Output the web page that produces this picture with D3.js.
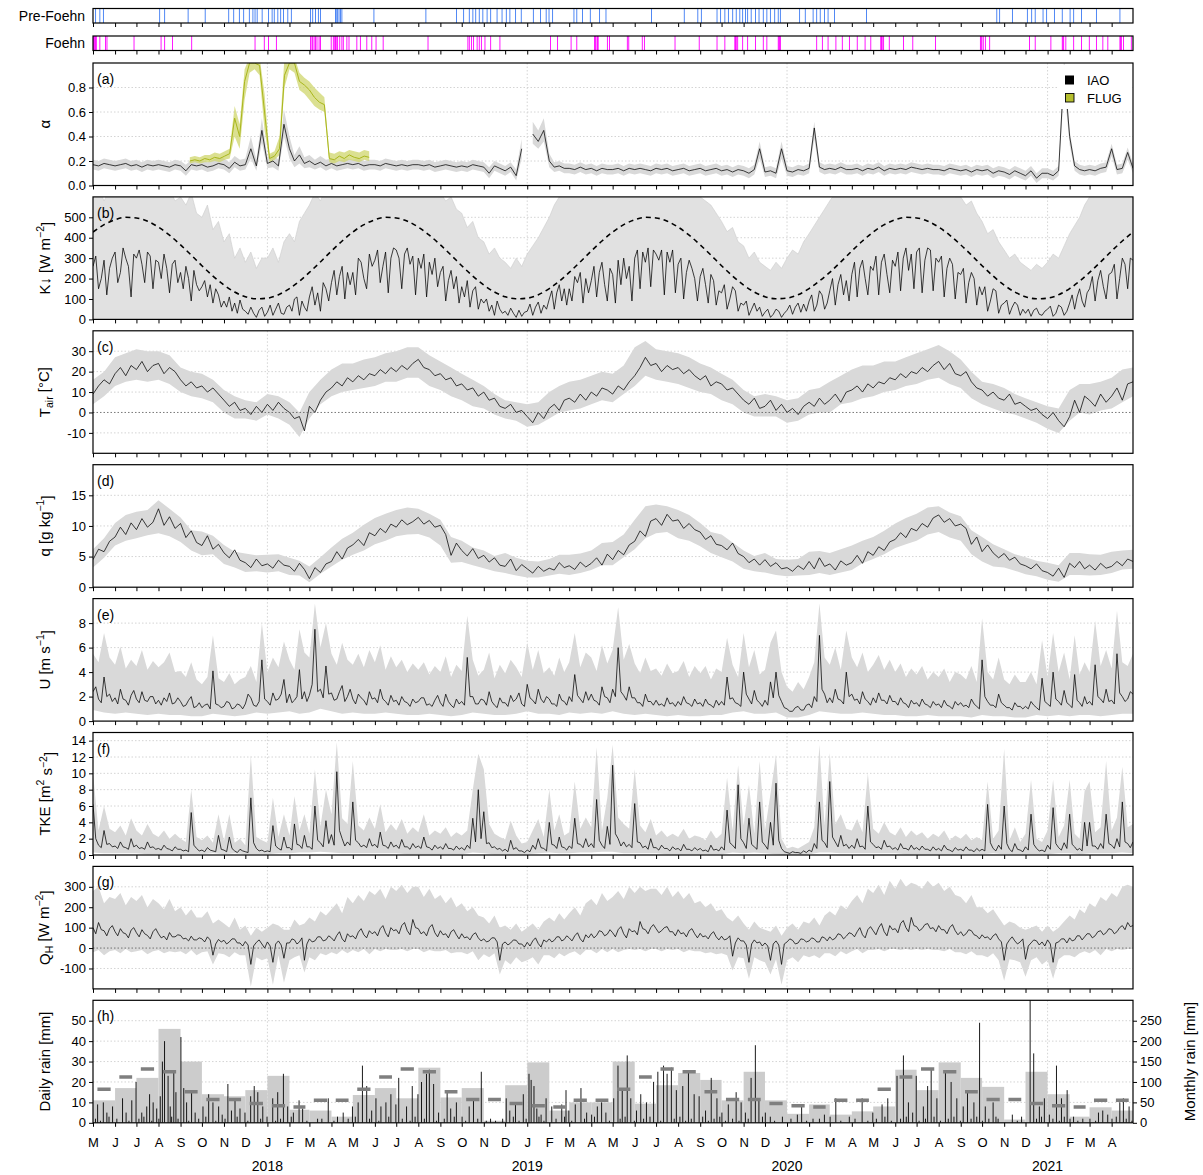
<!DOCTYPE html>
<html>
<head>
<meta charset="utf-8">
<script src="https://cdn.jsdelivr.net/npm/d3@7"></script>
<style>
  body { margin: 0; background: #fff; }
  text { font-family: "Liberation Sans", Arial, Helvetica, sans-serif; }
</style>
</head>
<body>
<svg id="chart" width="1203" height="1175"></svg>
<script>
// ---------------------------------------------------------------------------
// Record: 1 May 2017 – 30 Apr 2021
// Series below are sampled 8, 4 or 2 times per calendar month, starting May 2017,
// plus one closing value at 1 May 2021.
// ---------------------------------------------------------------------------
const START = new Date(2017, 4, 1);
const END = new Date(2021, 4, 1);

// Pre-foehn and foehn days (days since 1 May 2017)
const preFoehnDays = [3,9,14,93,100,133,157,190,197,205,211,219,224,227,230,237,246,251,254,259,263,267,273,278,305,308,312,316,319,340,341,343,345,347,349,394,467,510,520,528,533,537,542,547,553,558,567,574,580,585,593,601,618,628,636,640,645,675,679,687,698,711,720,784,830,849,854,876,881,887,892,898,903,908,912,916,919,924,930,935,941,946,951,957,962,965,992,1000,1011,1016,1021,1027,1032,1041,1086,1269,1273,1291,1312,1318,1323,1334,1339,1350,1361,1372,1377,1388,1409,1442];
const foehnDays = [0,1,2,3,4,9,17,19,57,95,100,111,138,227,240,246,257,305,307,308,310,312,314,317,319,334,337,339,340,341,343,346,349,351,356,359,370,375,384,391,397,407,470,526,528,531,534,539,542,545,550,558,571,642,652,671,679,704,705,706,708,709,722,725,750,752,771,774,817,851,876,887,901,902,903,905,912,919,930,941,946,962,963,964,965,1016,1024,1032,1043,1052,1062,1073,1084,1092,1106,1107,1108,1110,1118,1138,1151,1183,1246,1247,1248,1250,1253,1259,1315,1323,1345,1361,1362,1363,1366,1377,1388,1399,1409,1418,1425,1442,1443,1444,1447,1458];

// (a) albedo, IAO (4 per month): mean, upper and lower range
const albedoIAO = [
  .17,.16,.18,.17, .16,.17,.18,.16, .17,.15,.17,.16, .17,.16,.15,.17, .16,.12,.17,.16, .17,.15,.16,.18, .17,.14,.19,.16, .17,.30,.16,.45,
  .18,.20,.16,.50, .30,.20,.25,.18, .20,.17,.19,.16, .18,.16,.17,.18, .17,.18,.16,.17, .17,.16,.18,.17, .16,.17,.16,.17, .17,.16,.17,.15, .16,.17,.16,.15, .16,.15,.17,.16, .15,.10,.16,.14, .12,.15,.08,.30,
  null,.42,.36,.45, .20,.15,.16,.14, .14,.13,.15,.13, .14,.12,.14,.13, .13,.14,.12,.14, .13,.14,.13,.12, .14,.13,.14,.12, .13,.14,.12,.13, .14,.12,.13,.14, .12,.13,.11,.13, .12,.10,.13,.30, .11,.12,.10,.30,
  .12,.11,.13,.12, .14,.47,.15,.13, .14,.13,.15,.13, .13,.14,.12,.14, .13,.15,.12,.14, .13,.14,.13,.15, .14,.13,.14,.13, .13,.12,.14,.13, .12,.13,.11,.13, .12,.13,.10,.12, .11,.09,.12,.10, .08,.12,.06,.10,
  .10,.08,.12,.95, .40,.16,.13,.12, .13,.12,.14,.15, .30,.13,.14,.27, .14
];
const albedoIAOHi = [
  .21,.20,.22,.21, .20,.21,.22,.20, .21,.19,.21,.20, .21,.20,.19,.21, .20,.17,.21,.20, .21,.19,.21,.23, .22,.19,.24,.21, .22,.40,.21,.55,
  .23,.26,.21,.62, .40,.25,.32,.23, .25,.21,.24,.21, .22,.20,.21,.22, .21,.22,.20,.21, .21,.20,.22,.21, .20,.21,.20,.21, .21,.20,.21,.19, .20,.21,.20,.19, .20,.19,.21,.20, .19,.15,.20,.18, .16,.19,.13,.38,
  null,.52,.45,.55, .26,.19,.20,.18, .18,.17,.19,.17, .18,.16,.18,.17, .17,.18,.16,.18, .17,.18,.17,.16, .18,.17,.18,.16, .17,.18,.16,.17, .18,.16,.17,.18, .16,.17,.15,.17, .16,.14,.17,.36, .15,.16,.14,.36,
  .16,.15,.17,.16, .18,.52,.19,.17, .18,.17,.19,.17, .17,.18,.16,.18, .17,.19,.16,.18, .17,.18,.17,.19, .18,.17,.18,.17, .17,.16,.18,.17, .16,.17,.15,.17, .16,.17,.14,.16, .15,.13,.16,.14, .12,.16,.10,.14,
  .14,.12,.16,1.05, .45,.20,.17,.16, .17,.16,.18,.19, .34,.17,.18,.31, .18
];
const albedoIAOLo = [
  .13,.12,.14,.13, .12,.13,.14,.12, .13,.11,.13,.12, .13,.12,.11,.13, .12,.08,.13,.12, .13,.11,.12,.14, .13,.10,.15,.12, .13,.22,.12,.35,
  .14,.15,.12,.40, .22,.15,.18,.14, .15,.13,.15,.12, .14,.12,.13,.14, .13,.14,.12,.13, .13,.12,.14,.13, .12,.13,.12,.13, .13,.12,.13,.11, .12,.13,.12,.11, .12,.11,.13,.12, .11,.06,.12,.10, .08,.11,.04,.22,
  null,.34,.30,.36, .15,.11,.12,.10, .10,.09,.11,.09, .10,.08,.10,.09, .09,.10,.08,.10, .09,.10,.09,.08, .10,.09,.10,.08, .09,.10,.08,.09, .10,.08,.09,.10, .08,.09,.07,.09, .08,.06,.09,.22, .07,.08,.06,.22,
  .08,.07,.09,.08, .10,.38,.11,.09, .10,.09,.11,.09, .09,.10,.08,.10, .09,.11,.08,.10, .09,.10,.09,.11, .10,.09,.10,.09, .09,.08,.10,.09, .08,.09,.07,.09, .08,.09,.06,.08, .07,.05,.08,.06, .04,.08,.02,.06,
  .06,.04,.08,.80, .33,.12,.09,.08, .09,.08,.10,.11, .24,.09,.10,.21, .10
];
// (a) albedo, FLUG weekly from 14 Sep 2017
const FLUG_START = new Date(2017, 8, 14);
const albedoFLUG   = [.20,.21,.20,.22,.21,.23,.22,.24,.26,.55,.40,.85,1.0,1.0,.98,.60,.22,.24,.30,.90,1.0,1.0,.85,.82,.78,.72,.68,.66,.22,.21,.24,.22,.25,.23,.22,.24,.23];
const albedoFLUGLo = [.18,.19,.18,.19,.19,.20,.19,.21,.22,.40,.30,.70,.92,.95,.90,.45,.19,.21,.25,.80,.95,.92,.78,.75,.70,.65,.62,.60,.19,.18,.20,.19,.21,.20,.19,.21,.20];
const albedoFLUGHi = [.23,.24,.23,.25,.25,.27,.26,.28,.30,.65,.50,.95,1.05,1.05,1.05,.75,.26,.28,.40,1.05,1.05,1.05,.92,.88,.85,.80,.76,.72,.27,.26,.28,.27,.29,.28,.27,.29,.28];

// (b) incoming shortwave: daily mean (8 per month), daily maximum (4 per month)
const kdownMean = [
  260,310,150,200,290,120,250,300, 330,180,230,350,300,260,110,320, 300,340,270,180,330,310,150,290, 280,200,320,250,130,270,290,180,
  230,150,260,200,90,240,170,140, 160,190,110,170,80,150,120,60, 90,60,110,40,80,30,95,50, 40,25,60,30,10,45,60,15,
  35,70,20,50,80,30,25,60, 70,40,100,110,20,90,60,40, 110,160,70,130,40,180,150,90, 180,240,120,210,260,100,230,170,
  230,120,300,280,200,150,320,260, 290,340,180,260,330,130,300,350, 340,300,150,320,350,270,310,120, 300,250,320,110,280,220,300,160,
  230,260,90,190,240,150,210,80, 160,110,190,60,140,160,50,100, 80,100,40,70,20,90,50,30, 40,20,55,30,10,45,15,35,
  40,75,20,60,85,30,70,50, 100,140,50,130,170,90,150,70, 150,90,210,180,230,80,200,130, 190,260,110,230,280,170,90,250,
  220,80,290,170,300,200,260,90, 300,340,150,330,280,350,160,340, 320,290,340,120,330,280,340,130, 270,300,100,230,290,250,200,90,
  210,250,170,80,220,190,70,140, 130,170,50,100,160,140,40,80, 70,90,20,50,80,40,60,15, 35,50,10,25,50,40,10,30,
  45,70,25,60,80,35,75,40, 90,120,40,70,140,120,50,80, 140,200,70,170,220,120,190,90, 220,280,110,250,290,200,120,260,
  240,310,120,280,320,220,130,290, 260,330,140,300,350,240,320,150, 330,350,130,290,350,340,140,300, 280,310,110,250,300,270,100,230,
  220,250,80,180,230,200,70,160, 120,160,40,90,150,140,30,70, 80,95,25,60,85,70,20,50, 30,50,15,45,55,25,20,40,
  50,65,15,30,70,60,20,40, 80,120,50,110,150,90,60,130, 150,210,90,190,240,160,100,220, 230,270,100,200,300,270,150,300,
  290
];
const kdownMax = [
  600,650,580,640, 680,620,700,650, 690,640,700,660, 650,600,640,580, 600,560,620,520, 500,560,440,480, 380,420,300,350, 280,330,250,300,
  300,350,280,380, 420,380,480,520, 560,620,580,650, 640,680,620,700, 650,700,640,690, 700,660,720,680, 690,710,650,700, 680,640,660,600, 620,580,600,540, 520,450,480,400, 380,320,350,300, 280,250,300,260,
  320,360,400,450, 500,560,600,620, 640,600,680,650, 700,660,690,720, 650,700,680,720, 720,690,710,700, 700,680,710,660, 680,640,660,620, 600,580,560,520, 480,430,450,380, 360,300,330,280, 260,240,280,250,
  300,340,320,380, 420,460,500,540, 580,620,600,660, 680,650,700,690, 700,670,720,690, 710,680,700,720, 700,690,710,680, 670,640,650,600, 600,560,580,520, 480,420,440,380, 340,300,320,280, 260,240,270,250,
  280,320,300,360, 420,460,500,560, 600,640,620,680, 700,660,720,700, 700
];
// (b) clear-sky reference, 1st and 16th of each month, May–Apr
const kdownClearSky = [428,463,488,500,497,482,452,414,365,315,263,214,168,134,111,101,104,120,151,190,230,280,335,384];

// (c) air temperature: mean (4 per month), daily min / max (2 per month)
const tairMean = [
  9,13,16,14, 19,22,18,23, 21,25,20,23, 24,19,22,20, 16,13,15,12, 13,10,12,9, 6,3,5,1, 2,-1,3,0,
  4,1,5,2, 0,-3,-2,-9, 3,0,6,10, 12,15,13,17, 15,18,16,19, 18,21,19,22, 20,23,21,24, 26,22,21,18, 19,16,17,13, 14,11,12,8, 10,6,7,3, 2,4,0,1,
  -2,-5,0,-3, 2,4,1,6, 7,5,9,6, 10,8,12,11, 9,13,11,15, 18,22,27,23, 24,20,23,21, 22,19,21,18, 16,18,13,15, 14,11,12,9, 6,4,7,2, 3,6,1,4,
  0,2,-1,3, 5,3,7,4, 6,9,5,10, 11,13,10,14, 12,15,14,17, 16,19,17,20, 19,22,20,23, 25,21,24,19, 18,20,15,12, 11,8,10,7, 6,9,4,5, 3,1,2,-1,
  -3,0,-4,-7, -2,6,0,8, 6,3,9,5, 8,12,6,14, 15
];
const tairMin = [
  4,8, 13,15, 16,15, 16,14, 10,8, 7,5, 0,-3, -3,-4,
  -1,-3, -6,-12, -3,4, 8,10, 11,12, 13,15, 15,17, 17,13, 11,8, 6,3, 2,-1, -3,-4,
  -7,-6, -3,0, 1,2, 4,6, 5,9, 13,18, 16,15, 14,12, 10,9, 6,4, 0,-2, -2,-2,
  -5,-4, -1,0, 0,4, 5,7, 8,10, 11,13, 14,16, 17,14, 12,7, 4,2, 0,-1, -3,-5,
  -8,-10, -4,0, -1,1, 2,5, 8
];
const tairMax = [
  16,20, 27,29, 31,30, 30,28, 22,20, 19,16, 11,8, 6,5,
  9,8, 5,0, 10,16, 21,24, 24,26, 27,29, 30,32, 32,28, 25,22, 19,16, 13,9, 6,5,
  4,5, 10,13, 15,16, 18,20, 19,23, 32,35, 31,30, 29,27, 24,22, 19,16, 11,8, 9,8,
  6,7, 11,12, 15,18, 21,23, 23,25, 25,27, 29,31, 33,30, 26,20, 15,14, 12,9, 7,5,
  3,2, 11,14, 14,15, 17,21, 22
];

// (d) specific humidity: mean (4 per month), range (2 per month)
const qMean = [
  4.5,6.2,5.8,7.5, 8.2,9.8,8.6,10.5, 9.4,11.2,9.8,10.6, 12.8,10.1,11.5,9.6, 10.4,8.1,9.2,7.3, 6.8,8.4,6.2,7.0, 5.6,4.8,6.1,4.4, 4.0,3.2,4.6,3.5,
  3.8,3.1,4.4,3.6, 3.4,2.6,3.9,2.9, 1.4,3.2,2.4,3.8, 4.2,5.8,4.6,6.4, 6.9,7.8,6.8,8.9, 8.4,9.6,8.9,10.3, 9.8,11.0,10.2,10.7, 11.4,10.3,10.9,9.8, 10.1,8.6,5.2,7.2, 6.0,5.1,6.3,4.7, 5.2,4.1,4.8,3.6, 3.4,4.6,2.7,3.7,
  3.0,2.3,3.4,2.6, 3.1,2.8,4.0,3.2, 3.5,2.9,4.1,3.3, 3.9,4.8,3.6,5.4, 4.5,6.0,5.3,6.9, 7.5,9.2,8.3,10.8, 11.2,10.1,11.9,10.8, 11.0,9.6,10.4,9.4, 9.0,7.8,8.4,7.0, 6.8,6.1,7.2,5.5, 5.0,4.0,4.6,3.6, 4.5,3.4,4.0,3.0,
  3.2,2.6,3.5,2.9, 4.2,3.0,4.8,3.4, 3.8,2.8,4.3,3.6, 4.0,5.2,3.9,5.8, 5.2,6.6,6.0,7.4, 7.8,8.9,8.1,9.6, 9.2,10.4,9.8,11.3, 11.8,10.6,11.2,10.0, 10.3,9.6,7.0,8.2, 5.8,6.9,5.6,4.8, 5.5,4.4,4.9,3.8, 3.5,3.0,3.8,2.7,
  2.4,1.8,3.1,1.6, 3.9,3.2,4.2,3.0, 3.6,2.8,3.9,3.1, 3.4,4.2,3.5,4.6, 4.2
];
const qMin = [
  3.2,4.8, 6.8,7.6, 8.0,8.5, 8.8,8.3, 7.4,6.0, 5.2,5.4, 3.8,3.2, 2.5,2.6,
  2.4,2.6, 2.0,1.9, 0.8,2.2, 3.4,4.5, 5.3,6.0, 7.0,7.6, 8.3,8.6, 8.7,8.1, 6.8,4.0, 4.1,3.6, 3.1,2.6, 2.3,1.9,
  1.6,1.6, 1.9,2.2, 2.0,2.3, 2.8,3.6, 3.6,4.9, 6.2,8.0, 8.8,9.0, 8.0,7.6, 6.7,5.6, 4.9,4.2, 3.0,2.6, 2.4,2.0,
  1.8,1.9, 2.0,2.3, 2.0,2.4, 2.8,3.9, 4.6,5.4, 6.4,7.0, 7.6,8.6, 9.0,8.1, 7.6,5.4, 4.2,3.4, 3.2,2.7, 2.1,1.8,
  1.2,0.9, 2.0,2.0, 1.9,2.0, 2.3,2.9, 3.0
];
const qMax = [
  6.2,8.0, 10.5,11.8, 12.3,12.6, 14.2,12.8, 11.4,9.3, 9.1,8.4, 6.9,5.8, 5.5,5.2,
  5.3,5.4, 4.8,4.3, 3.4,4.9, 6.5,7.9, 8.9,10.2, 11.3,12.0, 12.6,13.0, 12.8,12.0, 11.0,8.2, 7.6,6.5, 6.0,5.1, 5.6,4.8,
  4.3,4.2, 4.6,5.3, 5.3,5.5, 6.0,7.2, 7.4,8.6, 11.0,13.2, 13.5,13.2, 12.6,11.8, 10.5,9.0, 8.6,7.3, 6.0,5.1, 5.6,4.6,
  4.5,4.6, 5.8,5.9, 5.6,6.2, 6.8,7.6, 8.2,9.2, 10.4,11.3, 12.0,13.0, 13.2,12.2, 11.6,9.3, 8.2,7.0, 6.2,5.4, 4.9,4.3,
  4.0,3.6, 5.6,5.6, 5.4,5.3, 5.8,6.0, 6.1
];

// (e) wind speed: mean (8 per month), maximum (4 per month), minimum (2 per month)
const uMean = [
  2.4,2.8,1.8,1.5,3.6,2.0,2.2,1.6, 1.9,1.4,2.6,1.8,1.7,1.3,2.1,2.5, 1.8,1.5,2.4,1.7,1.6,2.0,2.0,1.4, 1.7,1.3,1.9,1.6,2.3,1.4,1.5,1.9,
  1.6,1.2,1.3,1.7,2.0,1.1,1.2,1.5, 1.1,1.3,1.4,1.0,4.1,1.4,1.3,1.1, 1.2,1.6,1.5,1.0,1.1,1.4,1.3,1.0, 1.4,2.2,1.9,1.3,1.2,1.6,5.0,1.8,
  1.6,1.3,2.3,1.7,1.8,2.2,3.4,1.5, 2.2,1.5,1.7,2.0,4.2,1.8,2.4,1.6, 2.1,3.0,7.5,2.4,2.6,1.9,4.5,2.2, 2.3,1.7,1.8,2.4,2.9,1.6,2.0,2.6,
  1.8,1.4,2.2,1.9,1.7,1.3,2.4,1.8, 1.9,1.5,2.6,1.8,1.6,1.3,2.1,1.6, 1.7,1.3,2.0,1.6,1.5,1.2,1.8,1.5, 1.6,1.9,1.9,1.3,1.4,1.2,1.7,2.1,
  1.5,1.2,2.2,1.6,1.3,1.1,1.8,1.4, 1.6,1.3,5.2,2.0,2.0,1.4,1.4,1.8, 1.7,1.3,2.4,1.6,1.3,1.1,1.9,1.5, 1.5,1.2,2.1,1.6,1.8,2.3,1.4,1.2,
  3.0,1.9,1.7,1.4,2.6,1.8,1.5,2.0, 1.8,1.4,1.4,1.2,2.2,1.7,1.6,1.3, 2.0,1.6,3.8,2.1,1.8,1.5,2.4,1.7, 2.2,1.7,1.6,1.3,2.8,2.0,1.9,1.5,
  2.6,2.0,6.0,2.4,2.1,1.7,2.8,1.9, 1.9,1.5,1.5,1.2,2.2,1.6,1.6,1.3, 1.7,1.3,1.4,1.2,1.9,1.4,1.5,1.2, 1.6,1.3,2.0,1.5,1.4,1.2,1.8,1.4,
  1.5,1.2,1.8,1.4,1.3,1.1,1.7,1.3, 1.6,1.3,3.6,1.8,1.9,1.5,1.4,1.2, 4.0,2.2,1.8,1.4,2.5,1.7,1.5,1.2, 1.7,1.3,3.2,1.9,4.0,2.1,1.6,1.1,
  1.0,0.8,0.8,1.1,1.2,0.9,0.9,1.3, 1.4,1.1,2.0,1.6,7.0,2.6,2.2,1.5, 1.9,1.5,2.6,1.8,1.7,1.4,4.0,2.0, 2.2,1.7,1.8,1.4,2.4,1.8,1.6,1.3,
  1.9,1.5,2.3,1.7,1.7,1.4,2.1,1.6, 1.6,1.3,1.9,1.5,1.4,1.1,1.7,1.4, 1.5,1.2,1.8,1.4,1.3,1.1,1.6,1.3, 1.4,1.1,1.7,1.3,1.2,1.0,1.6,1.3,
  1.5,1.2,1.3,1.1,1.8,1.4,1.2,1.0, 5.0,2.0,1.6,1.3,1.3,1.1,2.2,1.5, 1.3,1.1,1.1,0.9,1.5,1.2,1.2,1.0, 1.2,1.0,1.6,1.3,1.1,0.9,3.5,1.6,
  1.4,1.2,4.0,1.8,1.6,1.3,2.5,1.5, 1.3,1.1,3.8,1.7,1.5,1.2,2.0,1.4, 1.6,1.3,4.6,2.0,1.8,1.5,2.6,1.6, 1.7,1.4,5.5,2.3,2.0,1.6,1.8,2.4,
  2.2
];
const uMax = [
  5.5,4.8,7.2,5.2, 4.6,6.1,4.3,5.0, 4.5,5.8,4.2,4.9, 4.4,4.8,5.6,4.0, 4.1,3.6,4.8,3.4, 3.0,3.6,7.0,3.5, 3.2,3.9,3.0,3.4, 3.6,4.5,3.2,8.0,
  4.0,5.2,4.4,6.5, 5.0,4.2,7.5,5.6, 5.2,9.6,6.0,8.0, 5.5,4.6,6.4,5.0, 4.6,5.5,4.4,5.8, 4.8,6.2,4.2,5.3, 4.4,5.0,4.0,4.7, 4.2,4.8,3.8,4.5, 4.0,5.3,3.6,4.6, 4.1,8.6,5.0,3.7, 4.2,5.6,3.5,4.6, 3.9,5.0,4.4,3.6,
  6.4,4.2,5.8,3.9, 4.4,3.7,5.2,4.0, 4.8,7.2,4.4,5.6, 5.2,4.1,6.2,4.7, 5.8,9.3,5.0,6.3, 4.7,3.9,5.2,4.1, 4.3,3.7,4.7,3.9, 4.1,4.9,3.6,4.5, 3.9,4.5,3.4,4.3, 4.0,6.8,4.6,3.6, 7.2,4.4,5.8,3.8, 4.2,6.4,7.4,4.0,
  2.8,2.4,3.2,2.6, 3.6,4.8,9.6,5.2, 4.6,6.0,4.2,7.4, 5.2,4.4,5.6,4.0, 4.6,5.4,4.2,5.0, 4.0,4.7,3.6,4.3, 3.8,4.5,3.4,4.0, 3.6,4.3,3.2,4.0, 3.8,3.4,4.5,3.2, 8.4,4.0,3.4,5.2, 3.4,3.0,3.8,3.2, 3.2,4.0,3.0,6.6,
  3.6,7.2,4.0,5.6, 3.4,7.0,3.8,4.8, 4.0,8.2,4.5,5.8, 4.3,9.0,4.8,4.5, 5.5
];
const uMin = [
  .9,.7, .6,.7, .6,.5, .6,.5, .5,.4, .4,.6, .5,.4, .5,.7,
  .6,.7, .8,.6, .7,1.0, .8,.6, .7,.6, .6,.7, .6,.5, .5,.6, .5,.4, .5,.7, .6,.5, .5,.6,
  .8,.6, .6,.5, .7,.6, .7,.6, .8,.6, .5,.6, .5,.4, .5,.4, .4,.5, .5,.7, .8,.6, .6,.7,
  .3,.3, .5,.8, .7,.6, .6,.7, .6,.5, .5,.4, .4,.5, .4,.4, .4,.3, .5,.4, .4,.3, .3,.5,
  .4,.5, .4,.5, .5,.4, .5,.6, .6
];

// (f) turbulent kinetic energy: mean (8 per month), maximum (4 per month), minimum (2 per month)
const tkeMean = [
  6.2,2.0,1.2,0.9,3.0,1.3,1.4,1.0, 1.1,0.8,1.6,1.0,0.9,0.7,2.0,1.0, 1.2,0.8,0.9,0.7,1.6,0.9,1.0,0.7, 0.8,0.6,1.2,0.8,0.7,0.5,1.0,0.7,
  0.7,0.5,0.6,0.4,5.2,1.2,0.8,0.5, 0.6,0.4,0.9,0.6,0.5,0.4,2.4,0.7, 0.6,0.4,2.2,0.8,0.5,0.3,0.7,0.5, 0.4,0.3,7.0,1.5,0.8,0.5,0.6,0.4,
  0.5,0.4,3.6,1.1,0.8,0.6,2.2,0.9, 0.9,0.6,3.8,1.3,1.2,0.8,2.4,1.0, 1.0,0.7,6.0,1.8,1.5,1.0,4.2,1.4, 2.5,1.2,10.2,3.0,2.0,1.1,1.6,1.2,
  6.5,1.8,1.5,1.0,1.2,0.9,2.0,1.1, 1.3,0.9,2.8,1.2,1.1,0.8,1.6,1.0, 1.2,0.8,1.9,1.0,1.0,0.7,1.4,0.9, 1.1,0.8,2.2,1.0,0.9,0.6,1.2,0.8,
  1.0,0.7,1.4,0.8,0.8,0.6,1.1,0.7, 0.9,0.6,1.2,0.8,4.5,1.6,8.0,2.0, 5.3,1.4,1.5,0.9,1.0,0.7,0.8,0.5, 0.7,0.4,1.8,0.7,0.9,0.5,0.5,0.3,
  0.6,0.4,1.2,0.7,2.0,0.9,0.8,0.5, 4.0,1.3,1.2,0.8,2.2,1.0,0.9,0.6, 1.1,0.8,4.5,1.4,1.3,0.9,2.0,1.0, 1.4,0.9,6.8,1.8,1.2,0.8,3.5,1.3,
  11.0,2.6,2.0,1.1,1.6,1.0,1.3,0.9, 6.3,1.6,1.5,0.9,1.1,0.7,2.0,0.9, 0.9,0.6,1.2,0.8,0.8,0.5,1.0,0.7, 0.8,0.5,1.3,0.7,0.7,0.5,0.9,0.6,
  0.8,0.5,0.6,0.4,1.2,0.6,0.7,0.5, 1.0,0.6,5.5,1.5,1.2,0.8,8.6,2.0, 1.5,0.8,4.5,1.3,1.0,0.7,6.5,1.6, 1.2,0.7,4.0,1.2,8.8,1.8,0.8,0.4,
  0.3,0.2,0.4,0.3,0.3,0.2,0.5,0.3, 0.6,0.4,1.4,0.8,6.5,1.8,1.5,0.9, 9.0,2.2,1.6,1.0,2.4,1.1,1.3,0.8, 1.2,0.8,2.0,1.0,1.1,0.7,6.0,1.6,
  1.3,0.9,1.0,0.7,1.8,1.0,1.1,0.7, 0.9,0.6,1.4,0.8,0.8,0.6,1.2,0.7, 0.9,0.6,1.1,0.7,0.7,0.5,1.0,0.6, 0.8,0.5,1.2,0.7,0.6,0.4,0.9,0.6,
  0.7,0.5,1.0,0.6,0.6,0.4,0.8,0.5, 0.7,0.5,6.2,1.5,0.8,0.5,1.2,0.7, 6.0,1.4,0.7,0.4,1.4,0.7,0.6,0.4, 1.0,0.6,5.0,1.3,0.8,0.5,0.6,0.4,
  1.2,0.7,5.8,1.4,0.9,0.6,1.5,0.8, 5.0,1.3,1.0,0.6,0.8,0.5,4.0,1.1, 4.0,1.1,1.1,0.7,1.4,0.8,5.0,1.4, 1.2,0.8,2.0,1.0,6.5,1.6,1.4,0.9,
  1.6
];
const tkeMax = [
  10.0,3.0,6.0,3.2, 2.8,3.6,2.4,4.5, 3.0,2.4,3.8,2.6, 2.2,3.0,2.0,2.6, 2.0,1.6,8.0,2.2, 1.8,2.4,1.5,5.0, 1.7,5.0,1.5,2.0, 1.2,12.2,2.2,1.8,
  1.5,7.0,2.2,5.0, 2.4,7.2,3.0,5.0, 2.6,10.5,3.5,8.0, 5.0,13.8,4.5,3.8, 11.5,3.6,3.0,4.6, 3.2,6.2,2.8,3.8, 3.0,4.4,2.6,3.4, 2.8,5.0,2.4,3.0, 2.6,3.4,2.2,2.8, 2.4,3.0,8.0,12.4, 10.5,3.8,2.6,2.2, 1.9,4.2,2.4,1.4,
  1.6,3.0,4.4,2.2, 8.0,3.0,5.0,2.4, 2.8,9.0,3.2,4.6, 3.4,13.2,3.0,7.0, 13.5,4.6,3.8,3.2, 10.5,3.6,2.8,4.4, 2.4,3.0,2.2,2.6, 2.2,3.2,2.0,2.4, 2.2,1.8,3.0,2.0, 2.6,9.5,3.0,11.0, 3.6,8.6,2.6,11.5, 3.0,7.5,12.3,2.0,
  0.8,1.0,0.8,1.2, 1.6,3.4,13.5,3.6, 12.5,3.8,5.0,3.2, 3.0,4.4,2.8,10.0, 3.2,2.6,4.0,2.8, 2.4,3.4,2.2,3.0, 2.4,2.8,2.0,2.6, 2.2,3.0,1.8,2.4, 2.0,2.6,1.8,2.2, 1.8,9.0,2.0,3.0, 13.0,1.8,3.4,1.6, 2.6,9.2,2.0,1.6,
  3.0,9.2,2.2,3.6, 9.2,2.6,2.0,7.8, 9.0,2.8,3.4,11.5, 3.0,4.6,10.8,3.4, 3.8
];
const tkeMin = [
  .3,.2, .2,.2, .2,.1, .1,.1, .1,.1, .1,.2, .1,.2, .1,.1,
  .1,.2, .2,.3, .3,.4, .3,.2, .2,.2, .2,.2, .2,.1, .1,.1, .1,.1, .1,.3, .2,.1, .1,.1,
  .1,.2, .3,.2, .2,.3, .3,.4, .4,.2, .2,.2, .2,.1, .1,.1, .1,.1, .1,.3, .2,.3, .2,.1,
  .0,.0, .1,.3, .3,.2, .2,.2, .2,.2, .2,.1, .1,.1, .1,.1, .1,.1, .1,.2, .1,.1, .1,.1,
  .1,.2, .2,.1, .2,.2, .2,.3, .2
];

// (g) sensible heat flux: mean (8 per month), minimum and maximum (4 per month)
const qhMean = [
  100,70,125,90,85,60,95,110, 80,60,95,75,70,50,88,100, 75,55,90,70,62,45,80,95, 70,50,58,40,76,55,55,65,
  62,45,48,35,58,40,40,50, 45,30,55,40,-35,20,42,30, 38,20,30,45,45,25,25,10, 32,15,-80,10,28,40,20,0,
  30,10,-70,20,35,15,-50,25, 25,45,40,20,30,50,-60,20, 45,30,35,55,55,35,40,60, 50,35,62,80,45,30,70,55,
  60,45,78,95,65,50,85,70, 80,60,95,110,75,55,100,85, 90,70,110,125,85,65,140,100, 95,70,80,60,100,115,75,55,
  85,65,70,50,80,90,65,45, 70,50,55,40,65,75,50,35, 45,30,35,50,50,30,-60,20, 30,15,25,40,38,20,20,5,
  28,10,35,50,22,5,40,30, 45,30,38,55,55,35,42,60, 50,35,60,75,45,30,65,50, 70,50,62,85,80,60,68,90,
  75,55,90,105,70,50,95,80, 85,65,130,95,90,70,100,115, 95,75,85,100,105,80,80,60, 90,70,75,55,85,95,70,50,
  72,55,60,45,68,80,55,40, 58,40,45,60,-40,25,50,35, 35,15,-70,20,40,25,30,10, 25,10,-60,20,35,15,-80,20,
  30,45,38,20,25,45,42,30, 35,50,45,30,30,55,50,35, 55,40,48,70,65,45,58,75, 70,55,80,100,65,50,90,105,
  85,65,100,120,80,60,110,90, 95,75,120,135,100,80,150,110, 105,85,95,115,120,95,100,80, 110,90,90,70,100,115,85,65,
  80,60,70,90,85,65,60,45, 65,50,55,40,60,70,45,30, -60,20,40,55,35,20,30,45, -55,10,25,40,35,15,30,10,
  40,20,-70,25,30,45,45,25, 50,35,40,60,60,40,55,70, 70,50,60,80,85,65,75,95, 90,70,80,100,110,90,125,105,
  110
];
const qhMax = [
  280,300,220,250, 240,270,210,250, 230,260,200,240, 220,190,240,180, 200,160,190,150, 150,180,120,140, 120,100,150,90, 110,60,100,80,
  100,120,110,90, 90,140,110,120, 150,130,180,160, 190,220,170,250, 220,260,230,280, 260,290,240,300, 280,310,270,300, 300,250,290,240, 260,220,250,200, 220,180,200,160, 150,120,160,100, 110,90,120,80,
  100,120,90,130, 150,130,170,140, 170,200,160,220, 240,210,270,230, 250,280,240,300, 270,300,280,290, 290,260,300,250, 280,240,270,220, 230,200,220,180, 190,150,130,160, 120,90,130,100, 90,80,110,60,
  100,120,90,130, 120,150,110,160, 180,160,210,190, 230,260,220,290, 270,310,260,330, 290,340,300,320, 310,290,330,300, 320,280,300,260, 250,220,260,200, 200,170,190,150, 110,130,120,100, 90,100,110,80,
  110,80,100,130, 160,140,190,170, 220,200,250,230, 270,250,300,310, 300
];
const qhMin = [
  -20,-10,-35,-15, -10,-25,-5,-20, -15,-10,-30,-15, -10,-25,-15,-20, -15,-30,-10,-35, -20,-15,-80,-25, -30,-45,-20,-35, -35,-190,-45,-60,
  -50,-180,-35,-170, -60,-45,-35,-120, -45,-60,-25,-35, -20,-30,-10,-25, -10,-20,-5,-30, -5,-15,-5,-10, -10,-5,-15,-5, -5,-20,-10,-15, -15,-10,-25,-20, -20,-30,-15,-60, -30,-45,-25,-130, -60,-80,-45,-70,
  -60,-45,-80,-35, -35,-50,-25,-40, -25,-15,-35,-10, -10,-25,-5,-20, -5,-20,-10,-5, -10,-5,-15,-5, -5,-15,-5,-10, -5,-20,-10,-15, -15,-25,-20,-30, -25,-35,-110,-45, -50,-150,-45,-60, -70,-130,-55,-180,
  -60,-45,-70,-35, -45,-35,-50,-25, -25,-40,-15,-30, -15,-5,-25,-10, -10,-5,-15,-5, -5,-10,-5,-10, -5,-10,-5,-10, -10,-15,-5,-20, -20,-30,-15,-35, -35,-45,-25,-60, -160,-55,-60,-70, -140,-60,-45,-80,
  -60,-150,-55,-35, -35,-45,-25,-15, -25,-10,-35,-5, -15,-5,-10,-5, -5
];

// (h) precipitation
// monthly totals [mm], May 2017 – Apr 2021
const rainMonthly = [
  55,85,110,230,150,70,65,80,
  115,32,30,15,68,85,60,135,62,85,5,92,
  148,30,50,50,150,47,92,122,105,55,125,55,
  22,45,20,28,40,130,80,148,110,88,8,125,
  70,15,38,30
];
// long-term monthly mean [mm], Jan – Dec
const rainClimatology = [42,39,55,55,82,112,132,125,76,57,57,47];
// daily totals [day since 1 May 2017, mm]
const rainDaily = [
  [3,2],[6,9],[10,1],[14,10],[19,5],[22,3],[27,8],[33,2],[41,12],[46,5],[50,1],[54,11],[60,20],[64,2],[68,5],[71,3],[75,8],[79,14],[82,1],[84,10],[89,7],[92,2],[94,13],[97,30],[100,40],[105,23],[108,8],[110,3],[113,25],[116,15],[119,2],[123,42],[127,17],[131,10],[134,1],[138,15],[143,5],[148,2],[154,8],[158,3],[162,14],[168,10],[172,1],[176,8],[181,4],[185,2],[189,19],[194,6],[199,12],[202,3],[206,7],[213,5],[217,1],[221,13],[226,18],[231,15],[235,2],[238,8],[244,3],[252,12],[256,1],[259,15],[263,2],[267,24],[273,8],[278,3],[281,5],[289,11],[294,7],[300,1],[315,2],[321,2],[330,12],[338,1],[343,3],[351,5],[358,2],[364,8],[368,3],[372,10],[378,28],[384,18],[388,2],[391,6],[397,12],[401,1],[404,8],[411,10],[415,3],[418,14],[425,9],[429,22],[434,2],[440,8],[445,1],[448,18],[452,3],[456,14],[461,20],[465,2],[468,24],[472,26],[478,19],[482,1],[485,5],[493,2],[497,15],[502,7],[507,3],[510,10],[518,3],[523,1],[528,8],[534,12],[540,2],[545,25],[552,1],[558,2],[565,1],[575,2],[580,12],[585,6],[590,3],[593,9],[598,1],[604,14],[608,2],[612,24],[615,21],[619,18],[623,7],[626,3],[629,4],[633,1],[636,12],[644,8],[650,2],[658,9],[662,3],[664,16],[668,6],[672,1],[677,9],[685,17],[690,2],[693,5],[700,4],[704,3],[708,8],[714,10],[720,5],[725,1],[731,12],[737,28],[740,2],[743,16],[747,3],[750,33],[755,12],[760,1],[763,6],[769,14],[773,2],[777,10],[782,3],[787,20],[793,25],[797,1],[801,28],[806,24],[812,27],[816,2],[819,16],[824,3],[828,18],[832,1],[836,25],[840,2],[844,14],[851,13],[856,3],[860,6],[864,1],[868,22],[872,2],[876,12],[880,3],[883,5],[888,1],[892,9],[898,2],[903,15],[907,1],[910,10],[916,5],[920,2],[924,22],[930,38],[935,11],[940,3],[944,5],[951,3],[957,1],[968,3],[980,2],[989,4],[995,8],[1002,1],[1011,2],[1020,2],[1027,4],[1035,3],[1043,12],[1050,1],[1062,3],[1070,2],[1080,12],[1088,1],[1095,5],[1100,2],[1108,9],[1112,3],[1116,12],[1121,1],[1129,23],[1134,2],[1138,33],[1142,3],[1145,10],[1151,5],[1156,23],[1160,1],[1166,8],[1169,2],[1172,18],[1177,26],[1181,3],[1185,12],[1190,1],[1197,25],[1201,2],[1205,20],[1209,3],[1213,12],[1218,1],[1222,8],[1228,16],[1233,2],[1237,10],[1241,3],[1245,49],[1249,1],[1253,8],[1258,2],[1264,10],[1268,3],[1271,2],[1291,4],[1298,1],[1304,3],[1316,62],[1321,34],[1325,2],[1329,8],[1332,3],[1336,12],[1343,4],[1348,2],[1353,28],[1357,1],[1360,12],[1364,3],[1368,16],[1372,2],[1377,3],[1383,1],[1390,2],[1400,2],[1408,1],[1412,5],[1418,6],[1425,4],[1431,2],[1437,3],[1442,10],[1447,12],[1451,2],[1455,8],[1459,1]
];

// Tick labels
const alphaTicks = [0, 0.2, 0.4, 0.6, 0.8];
const kdownTicks = [0, 100, 200, 300, 400, 500];
const tairTicks = [-10, 0, 10, 20, 30];
const qTicks = [0, 5, 10, 15];
const uTicks = [0, 2, 4, 6, 8];
const tkeTicks = [0, 2, 4, 6, 8, 10, 12, 14];
const qhTicks = [-100, 0, 100, 200, 300];
const rainDailyTicks = [0, 10, 20, 30, 40, 50];
const rainMonthlyTicks = [0, 50, 100, 150, 200, 250];
const yearLabels = [2018, 2019, 2020, 2021];

// ---------------------------------------------------------------------------
// Layout and helpers
// ---------------------------------------------------------------------------
const X0 = 93, X1 = 1133;
const PANEL_TOP = 63, PANEL_STEP = 133.9, PANEL_H = 122.5;
const GREY = "#d9d9d9";
const svg = d3.select("#chart");
const defs = svg.append("defs");
const x = d3.scaleTime().domain([START, END]).range([X0, X1]);
const monthTicks = d3.timeMonth.range(START, END);
const yearStarts = yearLabels.map(y => new Date(y, 0, 1));

// place samples evenly inside each calendar month
function spread(values, perMonth) {
  return values.map((v, i) => {
    const m = Math.floor(i / perMonth), f = (i % perMonth) / perMonth;
    const a = d3.timeMonth.offset(START, m), b = d3.timeMonth.offset(START, m + 1);
    return { t: new Date(+a + f * (b - a)), v };
  });
}
function weekly(values, t0) {
  return values.map((v, i) => ({ t: d3.timeDay.offset(t0, i * 7), v }));
}
// range band between a lower and an upper series
function bandPath(lo, hi, y) {
  if (lo.length === hi.length) {
    const rows = lo.map((d, i) => ({ t: d.t, lo: d.v, hi: hi[i].v }));
    return d3.area().defined(d => d.lo != null && d.hi != null)
      .x(d => x(d.t)).y0(d => y(d.lo)).y1(d => y(d.hi))(rows);
  }
  const pts = hi.map(d => [x(d.t), y(d.v)])
    .concat(lo.slice().reverse().map(d => [x(d.t), y(d.v)]));
  return d3.line()(pts) + "Z";
}
function linePath(series, y) {
  return d3.line().defined(d => d.v != null).x(d => x(d.t)).y(d => y(d.v))(series);
}
function addTitle(sel, parts) {
  parts.forEach(p => {
    const ts = sel.append("tspan").text(p.t);
    if (p.sup) ts.attr("font-size", "70%").attr("dy", "-0.55em");
    if (p.sub) ts.attr("font-size", "70%").attr("dy", "0.3em");
    if (p.back) ts.attr("dy", p.back);
  });
}
const num = d => String(d);

function monthAxis(g, yPos, labels) {
  const ax = d3.axisBottom(x).tickValues(monthTicks).tickSize(4).tickPadding(11)
    .tickFormat(labels ? (d => d3.timeFormat("%b")(d)[0]) : "");
  g.append("g").attr("transform", `translate(0,${yPos})`).call(ax)
    .call(a => a.select(".domain").remove())
    .call(a => a.selectAll("text").attr("font-size", 13).attr("font-family", null).attr("fill", "#000"))
    .call(a => a.selectAll("line").attr("stroke", "#000"));
}

// ---------------------------------------------------------------------------
// Foehn strips
// ---------------------------------------------------------------------------
function drawStrip(top, h, label, days, color) {
  const g = svg.append("g");
  g.selectAll("rect.ev").data(days).join("rect")
    .attr("x", d => x(d3.timeDay.offset(START, d)))
    .attr("y", top).attr("width", 0.9).attr("height", h)
    .attr("fill", color);
  g.append("rect").attr("x", X0).attr("y", top).attr("width", X1 - X0).attr("height", h)
    .attr("fill", "none").attr("stroke", "#000").attr("stroke-width", 1.2);
  monthAxis(g, top + h, false);
  g.append("text").attr("x", 85).attr("y", top + h / 2 + 5).attr("text-anchor", "end")
    .attr("font-size", 14).text(label);
}
drawStrip(8.5, 14.5, "Pre-Foehn", preFoehnDays, "#3f7cf3");
drawStrip(36, 14.5, "Foehn", foehnDays, "#ff00ff");

// ---------------------------------------------------------------------------
// Panels
// ---------------------------------------------------------------------------
function meanLine(p, series, y) {
  p.append("path").attr("d", linePath(series, y)).attr("fill", "none")
    .attr("stroke", "#000").attr("stroke-width", 0.75).attr("stroke-linejoin", "round");
}

const panels = [
  { letter: "(a)", domain: [0, 1], ticks: alphaTicks, fmt: d3.format(".1f"),
    title: [{ t: "α" }],
    draw(p, y) {
      p.append("path").attr("d", bandPath(spread(albedoIAOLo, 4), spread(albedoIAOHi, 4), y)).attr("fill", GREY);
      p.append("path").attr("d", bandPath(weekly(albedoFLUGLo, FLUG_START), weekly(albedoFLUGHi, FLUG_START), y))
        .attr("fill", "#cfd66c").attr("opacity", 0.75);
      meanLine(p, spread(albedoIAO, 4), y);
      p.append("path").attr("d", linePath(weekly(albedoFLUG, FLUG_START), y)).attr("fill", "none").attr("stroke", "#a9b61c").attr("stroke-width", 1);
    } },
  { letter: "(b)", domain: [0, 600], ticks: kdownTicks, fmt: num,
    title: [{ t: "K↓ [W m" }, { t: "−2", sup: true }, { t: "]", back: "0.55em" }],
    draw(p, y) {
      const hi = spread(kdownMax, 4);
      const lo = hi.map(d => ({ t: d.t, v: 0 }));
      p.append("path").attr("d", bandPath(lo, hi, y)).attr("fill", "#e1e1e1").attr("stroke", "#cdcdcd").attr("stroke-width", 0.6);
      meanLine(p, spread(kdownMean, 8), y);
      // clear-sky reference repeated for each year of the record
      const clear = [];
      for (let yr = 0; yr < 4; yr++) {
        kdownClearSky.forEach((v, i) => {
          const m = yr * 12 + Math.floor(i / 2);
          const a = d3.timeMonth.offset(START, m);
          clear.push({ t: i % 2 ? d3.timeDay.offset(a, 15) : a, v });
        });
      }
      clear.push({ t: END, v: kdownClearSky[0] });
      p.append("path").attr("d", d3.line().curve(d3.curveMonotoneX).x(d => x(d.t)).y(d => y(d.v))(clear))
        .attr("fill", "none").attr("stroke", "#000").attr("stroke-width", 1.6).attr("stroke-dasharray", "5,4");
    } },
  { letter: "(c)", domain: [-20, 40], ticks: tairTicks, fmt: num, zero: true,
    title: [{ t: "T" }, { t: "air", sub: true }, { t: " [°C]", back: "-0.3em" }],
    draw(p, y) {
      p.append("path").attr("d", bandPath(spread(tairMin, 2), spread(tairMax, 2), y)).attr("fill", GREY);
      meanLine(p, spread(tairMean, 4), y);
    } },
  { letter: "(d)", domain: [0, 20], ticks: qTicks, fmt: num,
    title: [{ t: "q [g kg" }, { t: "−1", sup: true }, { t: "]", back: "0.55em" }],
    draw(p, y) {
      p.append("path").attr("d", bandPath(spread(qMin, 2), spread(qMax, 2), y)).attr("fill", GREY);
      meanLine(p, spread(qMean, 4), y);
    } },
  { letter: "(e)", domain: [0, 10], ticks: uTicks, fmt: num,
    title: [{ t: "U [m s" }, { t: "−1", sup: true }, { t: "]", back: "0.55em" }],
    draw(p, y) {
      p.append("path").attr("d", bandPath(spread(uMin, 2), spread(uMax, 4), y)).attr("fill", GREY);
      meanLine(p, spread(uMean, 8), y);
    } },
  { letter: "(f)", domain: [0, 15], ticks: tkeTicks, fmt: num,
    title: [{ t: "TKE [m" }, { t: "2", sup: true }, { t: " s", back: "0.55em" }, { t: "−2", sup: true }, { t: "]", back: "0.55em" }],
    draw(p, y) {
      p.append("path").attr("d", bandPath(spread(tkeMin, 2), spread(tkeMax, 4), y)).attr("fill", GREY);
      meanLine(p, spread(tkeMean, 8), y);
    } },
  { letter: "(g)", domain: [-200, 400], ticks: qhTicks, fmt: num, zero: true,
    title: [{ t: "Q" }, { t: "H", sub: true }, { t: " [W m", back: "-0.3em" }, { t: "−2", sup: true }, { t: "]", back: "0.55em" }],
    draw(p, y) {
      p.append("path").attr("d", bandPath(spread(qhMin, 4), spread(qhMax, 4), y)).attr("fill", GREY);
      meanLine(p, spread(qhMean, 8), y);
    } },
  { letter: "(h)", domain: [0, 60], ticks: rainDailyTicks, fmt: num,
    title: [{ t: "Daily rain [mm]" }],
    draw(p, y, top, bottom) {
      const yR = d3.scaleLinear().domain([0, 300]).range([bottom, top]);
      const months = rainMonthly.map((v, i) => ({ a: d3.timeMonth.offset(START, i), b: d3.timeMonth.offset(START, i + 1), v }));
      p.selectAll("rect.mon").data(months).join("rect")
        .attr("x", d => x(d.a)).attr("width", d => x(d.b) - x(d.a))
        .attr("y", d => yR(d.v)).attr("height", d => yR(0) - yR(d.v))
        .attr("fill", "#cccccc");
      p.selectAll("line.day").data(rainDaily).join("line")
        .attr("x1", d => x(d3.timeDay.offset(START, d[0])) + 0.35)
        .attr("x2", d => x(d3.timeDay.offset(START, d[0])) + 0.35)
        .attr("y1", y(0)).attr("y2", d => y(d[1]))
        .attr("stroke", "#000").attr("stroke-width", 0.9);
      p.selectAll("line.clim").data(months).join("line")
        .attr("x1", d => x(d.a) + 0.2 * (x(d.b) - x(d.a)))
        .attr("x2", d => x(d.a) + 0.8 * (x(d.b) - x(d.a)))
        .attr("y1", d => yR(rainClimatology[d.a.getMonth()]))
        .attr("y2", d => yR(rainClimatology[d.a.getMonth()]))
        .attr("stroke", "#7f7f7f").attr("stroke-width", 3.5);
      return yR;
    } }
];

panels.forEach((cfg, i) => {
  const top = PANEL_TOP + i * PANEL_STEP, bottom = top + PANEL_H;
  const y = d3.scaleLinear().domain(cfg.domain).range([bottom, top]);
  const g = svg.append("g");
  const clipId = "clip-" + i;
  defs.append("clipPath").attr("id", clipId).append("rect")
    .attr("x", X0).attr("y", top).attr("width", X1 - X0).attr("height", PANEL_H);

  // grid
  g.selectAll("line.hg").data(cfg.ticks.filter(v => y(v) > top + 1 && y(v) < bottom - 1 && !(cfg.zero && v === 0))).join("line")
    .attr("x1", X0).attr("x2", X1).attr("y1", d => y(d)).attr("y2", d => y(d))
    .attr("stroke", "#d4d4d4").attr("stroke-dasharray", "1.5,2");
  g.selectAll("line.vg").data(yearStarts).join("line")
    .attr("x1", d => x(d)).attr("x2", d => x(d)).attr("y1", top).attr("y2", bottom)
    .attr("stroke", "#d4d4d4").attr("stroke-dasharray", "1.5,2");

  const plot = g.append("g").attr("clip-path", `url(#${clipId})`);
  const yR = cfg.draw(plot, y, top, bottom);

  // zero reference over the data
  if (cfg.zero) {
    g.append("line").attr("x1", X0).attr("x2", X1).attr("y1", y(0)).attr("y2", y(0))
      .attr("stroke", "#555").attr("stroke-width", 0.8).attr("stroke-dasharray", "1.5,2");
  }

  // frame
  g.append("rect").attr("x", X0).attr("y", top).attr("width", X1 - X0).attr("height", PANEL_H)
    .attr("fill", "none").attr("stroke", "#000").attr("stroke-width", 1.2);

  // y axis
  g.append("g").attr("transform", `translate(${X0},0)`)
    .call(d3.axisLeft(y).tickValues(cfg.ticks).tickFormat(cfg.fmt).tickSize(4).tickPadding(3))
    .call(a => a.select(".domain").remove())
    .call(a => a.selectAll("text").attr("font-size", 13).attr("font-family", null).attr("fill", "#000"))
    .call(a => a.selectAll("line").attr("stroke", "#000"));
  if (yR) {
    g.append("g").attr("transform", `translate(${X1},0)`)
      .call(d3.axisRight(yR).tickValues(rainMonthlyTicks).tickSize(4).tickPadding(3))
      .call(a => a.select(".domain").remove())
      .call(a => a.selectAll("text").attr("font-size", 13).attr("font-family", null).attr("fill", "#000"))
      .call(a => a.selectAll("line").attr("stroke", "#000"));
    const rt = g.append("text").attr("transform", `translate(1195,${(top + bottom) / 2}) rotate(-90)`)
      .attr("text-anchor", "middle").attr("font-size", 15);
    addTitle(rt, [{ t: "Monthly rain [mm]" }]);
  }

  // month ticks
  monthAxis(g, bottom, i === panels.length - 1);

  // panel letter
  g.append("text").attr("x", 97).attr("y", top + 21).attr("font-size", 14).text(cfg.letter);

  // y title
  const tt = g.append("text").attr("transform", `translate(50,${(top + bottom) / 2}) rotate(-90)`)
    .attr("text-anchor", "middle").attr("font-size", 15);
  addTitle(tt, cfg.title);

  // legend in (a)
  if (i === 0) {
    const lg = g.append("g");
    lg.append("rect").attr("x", 1058).attr("y", 65).attr("width", 74).attr("height", 44).attr("fill", "#fff");
    lg.append("rect").attr("x", 1065).attr("y", 75.5).attr("width", 9).attr("height", 9).attr("fill", "#000");
    lg.append("text").attr("x", 1087).attr("y", 85).attr("font-size", 13).text("IAO");
    lg.append("rect").attr("x", 1065.5).attr("y", 93.5).attr("width", 8.5).attr("height", 8.5)
      .attr("fill", "#b5be2e").attr("stroke", "#000").attr("stroke-width", 0.9);
    lg.append("text").attr("x", 1087).attr("y", 103).attr("font-size", 13).text("FLUG");
  }
});

// year labels
svg.selectAll("text.year").data(yearStarts).join("text")
  .attr("x", d => x(d)).attr("y", 1171).attr("text-anchor", "middle").attr("font-size", 14)
  .text(d => d.getFullYear());
</script>
</body>
</html>
